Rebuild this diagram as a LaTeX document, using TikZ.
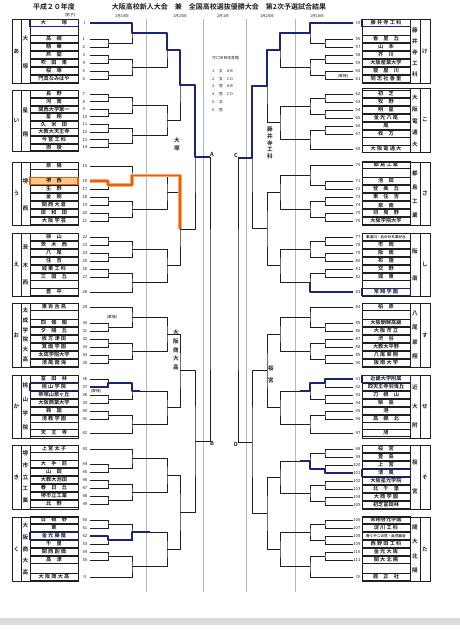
\documentclass[tikz,border=0pt]{standalone}
\usepackage{fontspec}
\setmainfont{Noto Sans CJK JP}[BoldFont={Noto Sans CJK JP Bold}]
\usetikzlibrary{calc}
\definecolor{kenInk}{RGB}{30,30,36}
\definecolor{kenBlue}{RGB}{26,36,126}
\definecolor{kenOrange}{RGB}{232,92,22}
\definecolor{kenGlow}{RGB}{250,170,90}
\definecolor{kenPeach}{RGB}{250,200,130}
\definecolor{kenGrid}{RGB}{180,184,190}
\tikzset{
  tcell/.style={draw=kenInk, line width=.45pt, minimum width=48pt,
    minimum height=6.8pt, inner sep=0pt, text=kenInk,
    font=\bfseries\fontsize{5.2}{5.2}\selectfont},
  lnum/.style={font=\fontsize{4.2}{4.2}\selectfont, text=kenInk,
    inner sep=.4pt, text width=7pt, align=left},
  rnum/.style={lnum, align=right},
  gtxt/.style={font=\bfseries\fontsize{5.6}{5.6}\selectfont, text=kenInk, inner sep=0pt},
  htitle/.style={font=\bfseries\fontsize{7}{7}\selectfont, text=kenInk, inner sep=0pt},
  hsmall/.style={font=\fontsize{3.8}{3.8}\selectfont, text=kenInk, inner sep=0pt},
  gline/.style={draw=kenInk, line width=.5pt},
  bline/.style={draw=kenInk, line width=.85pt},
  gridline/.style={draw=kenGrid, line width=.45pt},
  win/.style={draw=kenBlue, line width=1.8pt, line join=round},
  winbox/.style={draw=kenBlue, line width=1.3pt},
  hot/.style={draw=kenOrange, line width=1.4pt, line join=round},
  hotglow/.style={draw=kenGlow, line width=3.4pt, line join=round}
}
% one bout: junction at x, between two entrants
\newcommand\game[4]{%
  \path let \p1=(#3), \p2=(#4) in coordinate (#1) at (#2pt,{(\y1+\y2)/2});
  \draw[bline] (#3) -| (#1) |- (#4);
}
% vertical group name
\newcommand\vname[6]{%
  \foreach \ch [count=\k] in {#6}
    \node[gtxt] (#1\k) at (#2,{#3+(\k-0.5)*(#4-#3)/#5}) {\ch};
}
\begin{document}
\begin{tikzpicture}[x=1pt,y=-1pt]
\useasboundingbox (0,0) rectangle (460,630);
\fill[white] (0,0) rectangle (460,630);
\fill[black!14] (0,618) rectangle (460,625);

% header
\node[htitle] (year) at (54,7) {平成２０年度};
\node[htitle] (title) at (219,7)
  {大阪高校新人大会　兼　全国高校選抜優勝大会　第2次予選試合結果};
\node[hsmall] (sex) at (70,15) {(男子)};
\node[hsmall] (d1) at (122,16) {1月18日};
\node[hsmall] (d2) at (180,16) {1月25日};
\node[hsmall] (d3) at (223,16) {2月1日};
\node[hsmall] (d4) at (267,16) {1月25日};
\node[hsmall] (d5) at (317,16) {1月18日};
\foreach \gx in {146,203,246,295}
  \draw[gridline] (\gx,19) -- (\gx,592);

% left groups
\foreach \gt/\gb/\gl [count=\gi] in {19/83/あ,90/151/い,162/225/う,233/296/え,
    303/367/お,375/438/か,445/509/き,517/581/く}{
  \draw[gline] (12,\gt) rectangle (78,\gb);
  \draw[gline] (21,\gt) -- (21,\gb);
  \draw[gline] (30,\gt) -- (30,\gb);
  \node[gtxt] (lg\gi) at (16.5,{(\gt+\gb)/2}) {\gl};
}
\vname{lna}{25.5}{25}{80}{2}{大,塚}
\vname{lnb}{25.5}{98}{146}{2}{星,翔}
\vname{lnc}{25.5}{168}{222}{2}{堺,西}
\vname{lnd}{25.5}{238}{292}{3}{茨,木,西}
\vname{lne}{25.5}{306}{364}{6}{太,成,学,院,大,高}
\vname{lnf}{25.5}{378}{435}{4}{桃,山,学,院}
\vname{lng}{25.5}{448}{506}{5}{堺,市,立,工,業}
\vname{lnh}{25.5}{520}{578}{5}{大,阪,商,大,高}

% right groups
\foreach \gt/\gb/\gl [count=\gi] in {19/83/け,88/152/こ,162/225/さ,233/296/し,
    303/367/す,375/438/せ,445/509/そ,517/581/た}{
  \draw[gline] (362,\gt) rectangle (430,\gb);
  \draw[gline] (410,\gt) -- (410,\gb);
  \draw[gline] (420,\gt) -- (420,\gb);
  \node[gtxt] (rg\gi) at (425,{(\gt+\gb)/2}) {\gl};
}
\vname{rna}{415}{25}{80}{5}{藤,井,寺,工,科}
\vname{rnb}{415}{92}{150}{5}{大,阪,電,通,大}
\vname{rnc}{415}{166}{222}{4}{都,島,工,業}
\vname{rnd}{415}{238}{292}{2}{阪,南}
\vname{rne}{415}{306}{364}{4}{八,尾,翠,翔}
\vname{rnf}{415}{378}{435}{3}{近,大,附}
\vname{rng}{415}{448}{506}{2}{桜,宮}
\vname{rnh}{415}{520}{578}{4}{関,大,北,陽}

% left teams
\foreach \n/\y/\nm in {1/39/高　槻, 2/47/精　華, 3/55/芦　間, 4/63/吹　田　東,
    5/71/桜　塚, 6/79/門真なみはや,
    7/94/長　野, 8/101.6/河　南, 9/109.2/関西大学第一, 10/116.8/星　翔,
    11/124.4/久　米　田, 12/132/大教大天王寺, 13/139.6/今 宮 工 科, 14/147.2/摂　陵,
    15/166/泉　陽, 16/181/堺　西, 17/189/生　野, 18/197/金　剛,
    19/205/関 西 大 倉, 20/213/岸　和　田, 21/221/大 阪 学 芸,
    22/237/狭　山, 23/245/茨　木　西, 24/253/八　尾, 25/261/住　吉,
    26/269/城 東 工 科, 27/277/三　国　丘, 28/292/豊　中,
    29/307/東 百 舌 鳥, 30/323/四　條　畷, 31/331/夕　陽　丘, 32/339/枚 方 津 田,
    33/347/箕 面 学 園, 34/355/太成学院大学, 35/363/清 風 南 海,
    36/379/富　田　林, 37/387/桃 山 学 院, 38/395/帝塚山泉ヶ丘, 39/403/大阪商業大学,
    40/411/興　国, 41/419/清 教 学 園, 42/433/天　王　寺,
    43/449/上 宮 太 子, 44/464/大　手　前, 45/472/山　田, 46/480/大教大池田,
    47/488/春　日　丘, 48/496/堺市立工業, 49/504/北　野,
    50/520/日　根　野, 51/528/東, 52/536/金 光 藤 蔭, 53/544/千　里,
    54/552/関 西 創 価, 55/560/高　津}{
  \node[tcell] (c\n) at (54,\y) {\nm};
  \node[lnum, anchor=west] (t\n) at (82,\y) {\n};
}
\node[tcell] (cI) at (54,23) {大　　　塚};
\node[lnum, anchor=west] (sI) at (82,23) {Ⅰ};
\node[tcell] (cII) at (54,577) {大 阪 商 大 高};
\node[lnum, anchor=west] (sII) at (82,577) {Ⅱ};

% right teams
\foreach \n/\y/\nm in {56/39/香　里　丘, 57/47/山　本, 58/55/芥　川, 59/63/大阪産業大学,
    60/71/寝　屋　川, 61/79/同 志 社 香 里,
    62/94/初　芝, 63/102/牧　野, 64/110/明　星, 65/118/金 光 八 尾,
    66/126/鳳, 67/134/枚　方, 69/149/大 阪 電 通 大,
    70/165/都 島 工 業, 71/181/池　田, 72/189/登　美　丘, 73/197/東　住　吉,
    74/205/泉　南, 75/213/羽　曳　野, 76/221/大阪学院大学,
    77/237/{\fontsize{3.6}{3.6}\selectfont 東淀川・北かわち皐が丘}, 78/245/市　岡,
    79/253/阪　南, 80/261/布　施, 81/269/交　野, 82/277/城　東, 83/292/常 翔 学 園,
    84/307/柏　原, 85/323/大阪朝鮮高級, 86/331/大 阪 市 立, 87/339/渋　谷,
    88/347/大教大平野, 89/355/八 尾 翠 翔, 90/363/阪 南 大 学,
    91/379/近畿大学附属, 92/387/四天王寺羽曳丘, 93/395/刀　根　山, 94/403/柴　島,
    95/411/港, 96/419/高　槻　北, 97/433/旭,
    98/449/桜　宮, 99/457/豊　島, 100/465/上　宮, 101/473/清　風,
    102/481/大阪星光学院, 103/489/北　千　里, 104/497/大 商 学 園, 105/505/初芝富田林,
    106/520/常翔啓光学園, 107/528/淀 川 工 科,
    108/536/{\fontsize{3.6}{3.6}\selectfont 咲くやこの花・此花総合},
    109/544/西 野 田 工 科, 110/552/金 光 大 阪, 111/560/関 大 北 陽}{
  \node[tcell] (c\n) at (386,\y) {\nm};
  \node[rnum, anchor=east] (t\n) at (361,\y) {\n};
}
\node[tcell] (cIII) at (386,23) {藤 井 寺 工 科};
\node[rnum, anchor=east] (sIII) at (361,23) {Ⅲ};
\node[tcell] (cIV) at (386,577) {履　正　社};
\node[rnum, anchor=east] (sIV) at (361,577) {Ⅳ};

% left bracket
\game{m1}{108}{t1.east}{t2.east}   \game{m2}{108}{t3.east}{t4.east}
\game{m3}{108}{t5.east}{t6.east}   \game{g1a}{132}{sI.east}{m1}
\game{g1b}{132}{m2}{m3}            \game{G1}{167}{g1a}{g1b}
\game{m4}{108}{t7.east}{t8.east}   \game{m5}{108}{t9.east}{t10.east}
\game{m6}{108}{t11.east}{t12.east} \game{m7}{108}{t13.east}{t14.east}
\game{g2a}{132}{m4}{m5}            \game{g2b}{132}{m6}{m7}
\game{G2}{167}{g2a}{g2b}
\game{m8}{108}{t16.east}{t17.east} \game{m9}{108}{t18.east}{t19.east}
\game{m10}{108}{t20.east}{t21.east}\game{g3a}{132}{t15.east}{m8}
\game{g3b}{132}{m9}{m10}           \game{G3}{167}{g3a}{g3b}
\game{m11}{108}{t22.east}{t23.east}\game{m12}{108}{t24.east}{t25.east}
\game{m13}{108}{t26.east}{t27.east}\game{g4a}{132}{m11}{m12}
\game{g4b}{132}{m13}{t28.east}     \game{G4}{167}{g4a}{g4b}
\game{m14}{108}{t30.east}{t31.east}\game{m15}{108}{t32.east}{t33.east}
\game{m16}{108}{t34.east}{t35.east}\game{g5a}{132}{t29.east}{m14}
\game{g5b}{132}{m15}{m16}          \game{G5}{167}{g5a}{g5b}
\game{m17}{108}{t36.east}{t37.east}\game{m18}{108}{t38.east}{t39.east}
\game{m19}{108}{t40.east}{t41.east}\game{g6a}{132}{m17}{m18}
\game{g6b}{132}{m19}{t42.east}     \game{G6}{167}{g6a}{g6b}
\game{m20}{108}{t44.east}{t45.east}\game{m21}{108}{t46.east}{t47.east}
\game{m22}{108}{t48.east}{t49.east}\game{g7a}{132}{t43.east}{m20}
\game{g7b}{132}{m21}{m22}          \game{G7}{167}{g7a}{g7b}
\game{m23}{108}{t50.east}{t51.east}\game{m24}{108}{t52.east}{t53.east}
\game{m25}{108}{t54.east}{t55.east}\game{g8a}{132}{m23}{m24}
\game{g8b}{132}{m25}{sII.east}     \game{G8}{167}{g8a}{g8b}
\game{Q1}{180}{G1}{G2} \game{Q2}{180}{G3}{G4}
\game{Q3}{180}{G5}{G6} \game{Q4}{180}{G7}{G8}
\game{H1}{195}{Q1}{Q2} \game{H2}{195}{Q3}{Q4}

% right bracket
\game{n1}{325}{t56.west}{t57.west}   \game{n2}{325}{t58.west}{t59.west}
\game{n3}{325}{t60.west}{t61.west}   \game{h1a}{310}{sIII.west}{n1}
\game{h1b}{310}{n2}{n3}              \game{K1}{280}{h1a}{h1b}
\game{n4}{325}{t62.west}{t63.west}   \game{n5}{325}{t64.west}{t65.west}
\game{n6}{325}{t66.west}{t67.west}   \game{h2a}{310}{n4}{n5}
\game{h2b}{310}{n6}{t69.west}        \game{K2}{280}{h2a}{h2b}
\game{n7}{325}{t71.west}{t72.west}   \game{n8}{325}{t73.west}{t74.west}
\game{n9}{325}{t75.west}{t76.west}   \game{h3a}{310}{t70.west}{n7}
\game{h3b}{310}{n8}{n9}              \game{K3}{280}{h3a}{h3b}
\game{n10}{325}{t77.west}{t78.west}  \game{n11}{325}{t79.west}{t80.west}
\game{n12}{325}{t81.west}{t82.west}  \game{h4a}{310}{n10}{n11}
\game{h4b}{310}{n12}{t83.west}       \game{K4}{280}{h4a}{h4b}
\game{n13}{325}{t85.west}{t86.west}  \game{n14}{325}{t87.west}{t88.west}
\game{n15}{325}{t89.west}{t90.west}  \game{h5a}{310}{t84.west}{n13}
\game{h5b}{310}{n14}{n15}            \game{K5}{280}{h5a}{h5b}
\game{n16}{325}{t91.west}{t92.west}  \game{n17}{325}{t93.west}{t94.west}
\game{n18}{325}{t95.west}{t96.west}  \game{h6a}{310}{n16}{n17}
\game{h6b}{310}{n18}{t97.west}       \game{K6}{280}{h6a}{h6b}
\game{n19}{325}{t98.west}{t99.west}  \game{n20}{325}{t100.west}{t101.west}
\game{n21}{325}{t102.west}{t103.west}\game{n22}{325}{t104.west}{t105.west}
\game{h7a}{310}{n19}{n20}            \game{h7b}{310}{n21}{n22}
\game{K7}{280}{h7a}{h7b}
\game{n23}{325}{t106.west}{t107.west}\game{n24}{325}{t108.west}{t109.west}
\game{n25}{325}{t110.west}{t111.west}\game{h8a}{310}{n23}{n24}
\game{h8b}{310}{n25}{sIV.west}       \game{K8}{280}{h8a}{h8b}
\game{P1}{267}{K1}{K2} \game{P2}{267}{K3}{K4}
\game{P3}{267}{K5}{K6} \game{P4}{267}{K7}{K8}
\game{J1}{252}{P1}{P2} \game{J2}{252}{P3}{P4}

% semi-finals
\game{AB}{210}{H1}{H2}
\game{CD}{238}{J1}{J2}
\node[gtxt, anchor=south west] (labA) at (AB|-H1) {A};
\node[gtxt, anchor=north west] (labB) at (AB|-H2) {B};
\node[gtxt, anchor=south east] (labC) at (CD|-J1) {C};
\node[gtxt, anchor=north east] (labD) at (CD|-J2) {D};

% venue and order
\node[hsmall, anchor=west] (venue) at (212,58) {守口市民体育館};
\foreach \k/\txt in {1/女　A-B,2/女　C-D,3/男　A-B,4/男　C-D,5/女,6/男}
  \node[hsmall, anchor=west] (ord\k) at (212,{63+7.8*\k}) {\k.　\txt};

% forfeits
\node[hsmall] (ff1) at (112,317) {(棄権)};
\node[hsmall] (ff2) at (96,391) {(棄権)};
\node[hsmall] (ff3) at (343,76) {(棄権)};

% highlighted results
\draw[hotglow] (t16.east) -| (m8) -| (g3a) -| (Q2);
\draw[hot] (t16.east) -| (m8) -| (g3a) -| (Q2);
\node[tcell, fill=kenPeach, draw=kenOrange, line width=1.2pt] (hc16) at (c16) {堺　西};
\draw[win] (sI.east) -| (g1a) -| (G1) -| (Q1) -| (H1) -- (AB|-H1);
\draw[win] (sIII.west) -| (h1a) -| (K1) -| (P1) -| (J1) -- (CD|-J1);
\draw[win] (t37.east) -| (m17) -| (g6a) -- ++(8,0);
\draw[win] (t52.east) -| (m24) -| (g8a) -- ++(18,0);
\draw[win] (t83.west) -| (h4b) -- ++(-10,0);
\draw[win] (t91.west) -| (n16) -| (h6a) -- ++(-10,0);
\draw[win] (t101.west) -| (n20) -| (h7a) -- ++(-10,0);
\foreach \b in {cI,c37,c52,cIII,c83,c91,c101}
  \draw[winbox] (\b.south west) rectangle (\b.north east);

% block winners
\vname{wa}{177}{136}{152}{2}{大,塚}
\vname{wc}{270}{126}{160}{5}{藤,井,寺,工,科}
\vname{wb}{176}{328}{372}{5}{大,阪,商,大,高}
\vname{wd}{271}{362}{386}{2}{桜,宮}
\end{tikzpicture}
\end{document}
